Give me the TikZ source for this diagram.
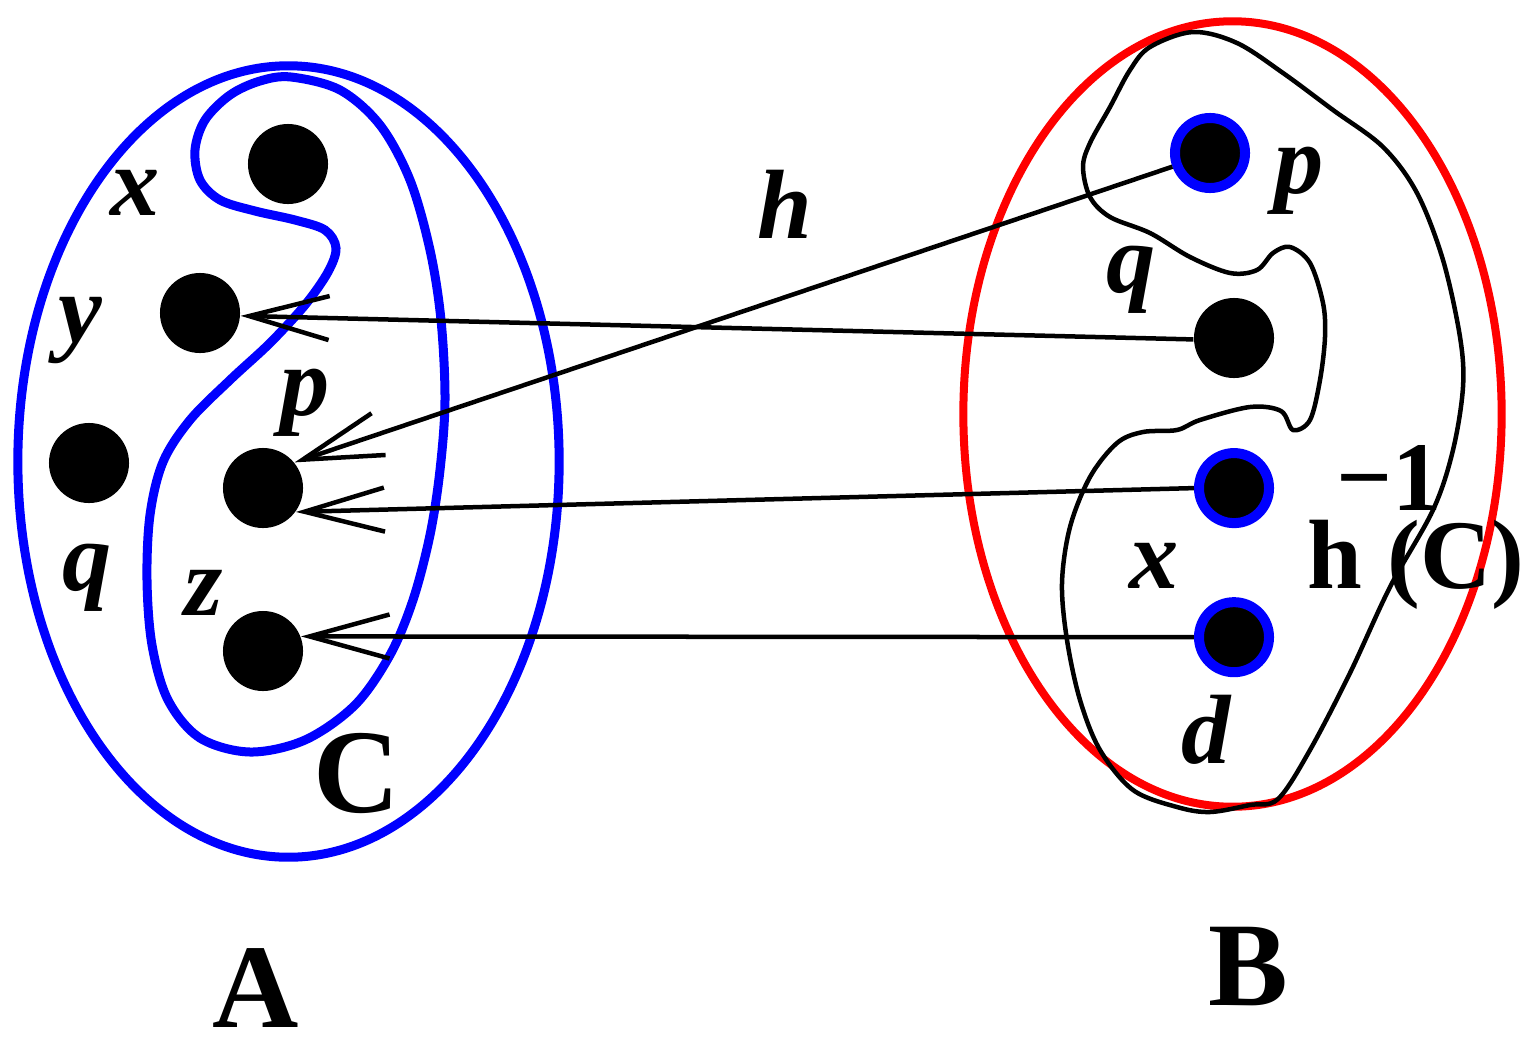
\documentclass[tikz,border=0pt]{standalone}
\usepackage{fontspec}
\setmainfont{Liberation Serif}
\usepackage{tikz}
\usetikzlibrary{positioning, arrows.meta}

\begin{document}
\begin{tikzpicture}[x=0.01cm, y=-0.01cm, on grid,
    dot/.style={circle, fill=black, minimum size=0.8cm, inner sep=0pt},
    ring/.style={circle, fill=black, draw=blue, line width=0.1cm, minimum size=0.7cm, inner sep=0pt},
    lbl/.style={font=\fontsize{28}{30}\selectfont\bfseries\itshape, inner sep=0pt, anchor=base},
    big/.style={font=\fontsize{34}{36}\selectfont\bfseries, inner sep=0pt, anchor=base},
    conn/.style={line width=0.045cm, -{Straight Barb[length=0.8cm, width=0.44cm]}}]
       \useasboundingbox (0,0) rectangle (1521,1045);

       \draw[blue, line width=0.09cm] (288.5,461.5) ellipse [x radius=2.705cm, y radius=3.955cm];
       \draw[red, line width=0.08cm] (1232.5,414) ellipse [x radius=2.69cm, y radius=3.925cm];

       \draw[blue, line width=0.09cm] plot[smooth cycle, tension=0.55] coordinates {
           (291,77) (340,90) (380,125) (410,180) (430,250) (441,320) (445,400) (440,470)
           (430,535) (413,600) (390,655) (355,705) (305,740) (250,752) (200,738) (168,700)
           (152,645) (147,580) (150,515) (163,462) (190,420) (230,380) (270,343) (305,305)
           (328,272) (336,248) (325,230) (295,220) (255,211) (220,200) (200,180) (195,150)
           (205,120) (230,95) (260,81)};

       \draw[line width=0.045cm] plot[smooth cycle, tension=0.55] coordinates {
           (1193,32) (1150,47) (1130,70) (1110,107) (1090,143) (1083,167) (1090,197)
           (1110,217) (1150,233) (1190,257) (1230,273) (1257,270) (1273,253) (1290,247)
           (1310,263) (1323,303) (1325,337) (1320,380) (1310,420) (1293,430) (1281,411)
           (1250,407) (1200,420) (1177,430) (1143,432) (1117,443) (1090,477) (1070,527)
           (1062,583) (1067,640) (1080,700) (1100,750) (1133,790) (1177,807) (1210,812)
           (1250,805) (1278,799) (1310,750) (1350,673) (1390,587) (1433,510) (1453,450)
           (1463,387) (1460,337) (1443,260) (1417,193) (1383,147) (1333,110) (1283,73)
           (1237,43)};

       \node[dot] (ax) at (288,164) {};
       \node[dot] (ay) at (200,313) {};
       \node[dot] (aq) at (89,463) {};
       \node[dot] (ap) at (263,488) {};
       \node[dot] (az) at (263,651) {};

       \node[ring] (bp) at (1210,153) {};
       \node[dot] (bq) at (1234,338) {};
       \node[ring] (bx) [below=1.5cm of bq] {};
       \node[ring] (bd) [below=1.49cm of bx] {};

       \draw[conn] (bq.182) -- (ay.-4);
       \draw[conn] (bp.200) -- (ap.39);
       \draw[conn] (bx.180) -- (ap.-36);
       \draw[conn] (bd.180) -- (az.21);

       \node[lbl] (lx) at (135,215) {x};
       \node[lbl] (ly) at (80,342) {y};
       \node[lbl] (lq) at (87,590) {q};
       \node[lbl] (lp) at (305,415) {p};
       \node[lbl] (lz) at (204,615) {z};
       \node[lbl] (lh) at (785,238) {h};
       \node[lbl] (rp) at (1299,193) {p};
       \node[lbl] (rq) at (1131,292) {q};
       \node[lbl] (rx) at (1154,588) {x};
       \node[lbl] (rd) at (1206,763) {d};

       \node[big] (setC) at (357,812) {C};
       \node[big] (setA) at (256,1027) {A};
       \node[big] (setB) at (1248,1005) {B};

       \node[lbl, font=\fontsize{28}{30}\selectfont\bfseries] (inv) at (1416,588) {h (C)};
       \node[lbl, font=\fontsize{28}{30}\selectfont\bfseries] (invexp) at (1389,510) {−1};
\end{tikzpicture}
\end{document}
